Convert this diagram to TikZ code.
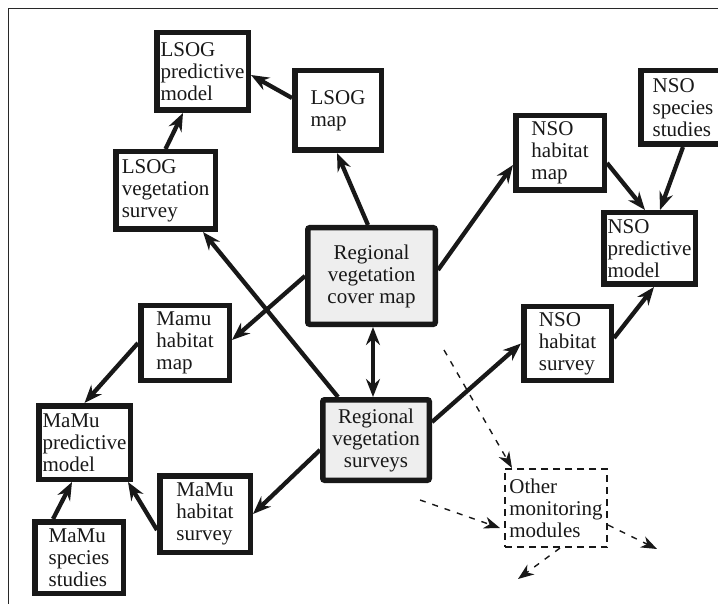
\documentclass[tikz,border=0pt]{standalone}
\usepackage{fontspec}
\setmainfont{Liberation Serif}
\usetikzlibrary{arrows.meta}
\definecolor{boxgray}{RGB}{238,238,238}
\definecolor{ink}{RGB}{24,24,24}
\definecolor{framec}{RGB}{40,40,40}
\hyphenpenalty=10000
\begin{document}
\begin{tikzpicture}[x=1pt,y=-1pt,
  box/.style={draw=ink, line width=5.5pt, inner sep=2pt, align=left, text=ink,
    font=\fontsize{21pt}{22pt}\selectfont},
  sz/.style 2 args={minimum width=#1, minimum height=#2},
  central/.style={box, fill=boxgray, align=center, rounded corners=2pt},
  dbox/.style={draw=ink, line width=1.6pt, dash pattern=on 7pt off 5pt, inner sep=2pt,
    align=left, text=ink, font=\fontsize{21pt}{22pt}\selectfont},
  tipshape/.style={},
  arr/.style={draw=ink, line width=4.3pt, -{Stealth[length=18pt,width=14pt,inset=6pt]}},
  dbl/.style={draw=ink, line width=4.3pt, {Stealth[length=18pt,width=14pt,inset=6pt]}-{Stealth[length=18pt,width=14pt,inset=6pt]}},
  darr/.style={draw=ink, line width=1.4pt, dash pattern=on 6pt off 7pt, -{Stealth[length=16pt,width=12pt,inset=5pt]}},
  frameline/.style={draw=framec, line width=1pt}
]
\useasboundingbox (0,0) rectangle (718,604);
\clip (0,0) rectangle (718,604);
\draw[frameline] (8,604) -- (8,9) -- (718,9);

% LSOG
\node[box, sz={91.5pt}{77.5pt}] (lpm) at (202.5,71.5) {LSOG\\predictive\\model};
\node[box, sz={86.5pt}{79.5pt}] (lmap) at (338,110.5) {LSOG\\map};
\node[box, sz={99.5pt}{77.5pt}] (lvs) at (165.5,190.5) {LSOG\\vegetation\\survey};
% central
\node[central, sz={127.5pt}{96.5pt}] (rcm) at (371.5,276) {Regional\\vegetation\\cover map};
\node[central, sz={106.5pt}{80.5pt}] (rvs) at (376,440) {Regional\\vegetation\\surveys};
% NSO
\node[box, sz={88.5pt}{74.5pt}] (nhm) at (560,153) {NSO\\habitat\\map};
\node[box, sz={84.5pt}{73.5pt}] (nss) at (683,107.5) {NSO\\species\\studies};
\node[box, sz={91.5pt}{71.5pt}] (npm) at (649.5,248.5) {NSO\\predictive\\model};
\node[box, sz={87.5pt}{73.5pt}] (nhs) at (567.5,343.5) {NSO\\habitat\\survey};
% MaMu
\node[box, sz={88.5pt}{74.5pt}] (mhm) at (185,343) {Mamu\\habitat\\map};
\node[box, sz={91.5pt}{73.5pt}] (mpm) at (84.5,442.5) {MaMu\\predictive\\model};
\node[box, sz={90.5pt}{76.5pt}] (mhs) at (205,514) {MaMu\\habitat\\survey};
\node[box, sz={88.5pt}{71.5pt}] (mss) at (79,557.5) {MaMu\\species\\studies};
% other
\node[dbox, minimum width=102.5pt, minimum height=78.5pt] (omm) at (556,508) {Other\\monitoring\\modules};

% solid connectors
\draw[arr] ([yshift=12.5pt]lmap.west) -- ([yshift=-3.5pt]lpm.east);
\draw[arr] (lvs.north) -- ([xshift=-19.5pt]lpm.south);
\draw[arr] ([xshift=-3.5pt]rcm.north) -- ([xshift=-1pt]lmap.south);
\draw[arr] ([xshift=-38pt]rvs.north) -- ([xshift=37.5pt]lvs.south);
\draw[arr] (rcm.west) -- ([yshift=3pt]mhm.east);
\draw[arr] (mhm.west) -- (mpm.north);
\draw[arr] ([yshift=-10pt]rvs.west) -- (mhs.east);
\draw[arr] ([yshift=-16pt]mhs.west) -- ([xshift=-5pt]mpm.south east);
\draw[arr] ([xshift=-26pt]mss.north) -- ([xshift=-12.5pt]mpm.south);
\draw[dbl] ([xshift=1.5pt]rcm.south) -- ([xshift=-3pt]rvs.north);
\draw[arr] ([yshift=6pt]rcm.east) -- ([yshift=-12pt]nhm.west);
\draw[arr] ([yshift=-10pt]nhm.east) -- ([xshift=-4.5pt]npm.north);
\draw[arr] (nss.south) -- ([xshift=10.5pt]npm.north);
\draw[arr] ([yshift=5.5pt]nhs.east) -- ([xshift=4.5pt]npm.south);
\draw[arr] ([yshift=18pt]rvs.east) -- (nhs.west);

% dashed connectors
\coordinate (d1) at (444,350);
\coordinate (d2) at (420,500);
\coordinate (d3) at (657,549);
\coordinate (d4) at (518,579);
\draw[darr] (d1) -- ([xshift=8pt]omm.north west);
\draw[darr] (d2) -- ([xshift=-4pt,yshift=-20pt]omm.west);
\draw[darr] ([yshift=-17pt]omm.east) -- (d3);
\draw[darr] ([xshift=4pt]omm.south) -- (d4);
\end{tikzpicture}
\end{document}
